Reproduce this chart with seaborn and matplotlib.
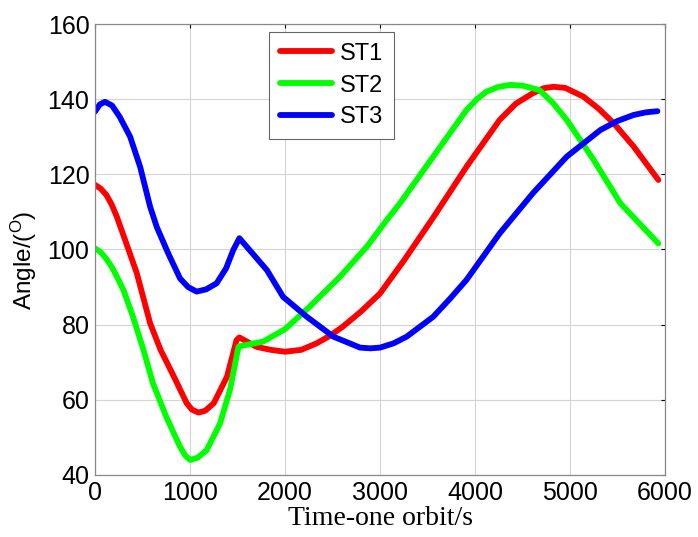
import matplotlib
matplotlib.use("Agg")
import matplotlib.pyplot as plt
import seaborn as sns
import pandas as pd
from matplotlib.lines import Line2D

# ---- data ----
st1_x = [0, 60, 120, 175, 230, 330, 440, 580, 690, 830, 965, 1020, 1090, 1160, 1250,
         1390, 1490, 1520, 1700, 1850, 2000, 2170, 2330, 2470, 2610, 2800, 3000, 3250,
         3560, 3910, 4260, 4430, 4610, 4720, 4825, 4950, 5140, 5300, 5460, 5670, 5930]
st1_y = [117.2, 116.2, 114.5, 112.0, 108.7, 101.6, 93.7, 80.4, 73.3, 66.2, 59.1, 57.4,
         56.6, 57.1, 59.1, 66.2, 75.9, 76.6, 74.1, 73.3, 72.8, 73.3, 75.0, 77.0, 79.5,
         83.5, 88.3, 97.0, 108.5, 122.0, 134.5, 138.8, 141.6, 142.9, 143.3, 143.0,
         140.7, 137.5, 133.6, 127.4, 118.5]

st2_x = [0, 60, 120, 180, 230, 300, 400, 510, 610, 750, 895, 950, 1000, 1080, 1175,
         1316, 1420, 1510, 1530, 1770, 2000, 2260, 2580, 2860, 3070, 3210, 3560, 3910,
         4020, 4120, 4250, 4370, 4500, 4680, 4820, 4965, 5250, 5530, 5930]
st2_y = [100.3, 99.3, 97.5, 95.2, 92.8, 89.2, 82.1, 73.3, 64.4, 55.5, 47.5, 45.2,
         44.0, 44.6, 46.6, 53.7, 62.6, 74.1, 74.3, 75.5, 78.8, 84.8, 92.8, 100.7, 107.8,
         112.3, 124.7, 137.1, 140.0, 142.0, 143.3, 143.8, 143.6, 142.4, 139.0, 134.5,
         123.8, 112.3, 101.6]

st3_x = [0, 50, 105, 180, 260, 370, 475, 580, 650, 770, 895, 980, 1070, 1170, 1280,
         1380, 1456, 1520, 1810, 1980, 2230, 2510, 2790, 2900, 3000, 3140, 3280, 3560,
         3740, 3910, 4260, 4610, 4965, 5320, 5500, 5670, 5800, 5920]
st3_y = [136.7, 138.6, 139.3, 138.3, 135.3, 130.0, 122.0, 111.4, 106.0, 99.0, 92.3,
         90.0, 88.8, 89.4, 91.0, 95.0, 99.9, 103.0, 94.5, 87.4, 82.1, 76.8, 73.9, 73.7,
         73.9, 75.0, 76.8, 82.1, 87.0, 91.9, 104.3, 115.0, 124.7, 131.8, 134.2, 135.8,
         136.5, 136.8]

labels = ["ST1", "ST2", "ST3"]
colors = ["#FF0000", "#00FF00", "#0000FF"]
x_ticks = [0, 1000, 2000, 3000, 4000, 5000, 6000]
y_ticks = [40, 60, 80, 100, 120, 140, 160]

df = pd.concat([
    pd.DataFrame({"x": st1_x, "y": st1_y, "series": "ST1"}),
    pd.DataFrame({"x": st2_x, "y": st2_y, "series": "ST2"}),
    pd.DataFrame({"x": st3_x, "y": st3_y, "series": "ST3"}),
], ignore_index=True)

sns.set_theme(style="white")
plt.rcParams["font.family"] = ["Liberation Sans", "DejaVu Sans"]
plt.rcParams["mathtext.fontset"] = "custom"
plt.rcParams["mathtext.rm"] = "Liberation Sans"
plt.rcParams["mathtext.it"] = "Liberation Sans"
plt.rcParams["text.color"] = "black"
plt.rcParams["axes.labelcolor"] = "black"

fig = plt.figure(figsize=(6.98, 5.37), dpi=100)
ax = fig.add_axes([95 / 698, 62 / 537, 570 / 698, 451 / 537])

sns.lineplot(data=df, x="x", y="y", hue="series", palette=dict(zip(labels, colors)),
             estimator=None, sort=False, linewidth=4.2, ax=ax, legend=False)
for ln in ax.get_lines():
    ln.set_solid_joinstyle("round")
    ln.set_solid_capstyle("round")

ax.set_xlim(0, 6000)
ax.set_ylim(40, 160)
ax.set_xticks(x_ticks)
ax.set_yticks(y_ticks)
ax.set_xticklabels([str(t) for t in x_ticks])
ax.set_yticklabels([str(t) for t in y_ticks])
ax.grid(True, color="#d4d4d4", linewidth=0.8)
ax.set_axisbelow(True)
ax.tick_params(axis="both", direction="in", length=3, width=0.8, labelsize=18,
               colors="black", top=True, right=True, pad=4)
for s in ax.spines.values():
    s.set_color("#888888")
    s.set_linewidth(0.9)

ax.set_xlabel("Time-one orbit/s", fontsize=20, family=["Liberation Serif", "DejaVu Serif"],
              labelpad=1, color="black")
ax.set_ylabel(r"Angle/($^{\mathrm{O}}$)", fontsize=17.5, color="black")
ax.yaxis.set_label_coords(-0.098, 0.475)

handles = [Line2D([], [], color=c, linewidth=4.2) for c in colors]
leg = ax.legend(handles, labels, loc="upper left", bbox_to_anchor=(269 / 698, 1 - 32 / 537),
                bbox_transform=fig.transFigure, fontsize=17, frameon=True, fancybox=False,
                edgecolor="#666666", framealpha=1, borderaxespad=0, handlelength=2.2,
                handletextpad=0.35, labelspacing=0.42, borderpad=0.45)
leg.get_frame().set_linewidth(0.8)
for t in leg.get_texts():
    t.set_color("black")

fig.savefig("out.png", dpi=100)
